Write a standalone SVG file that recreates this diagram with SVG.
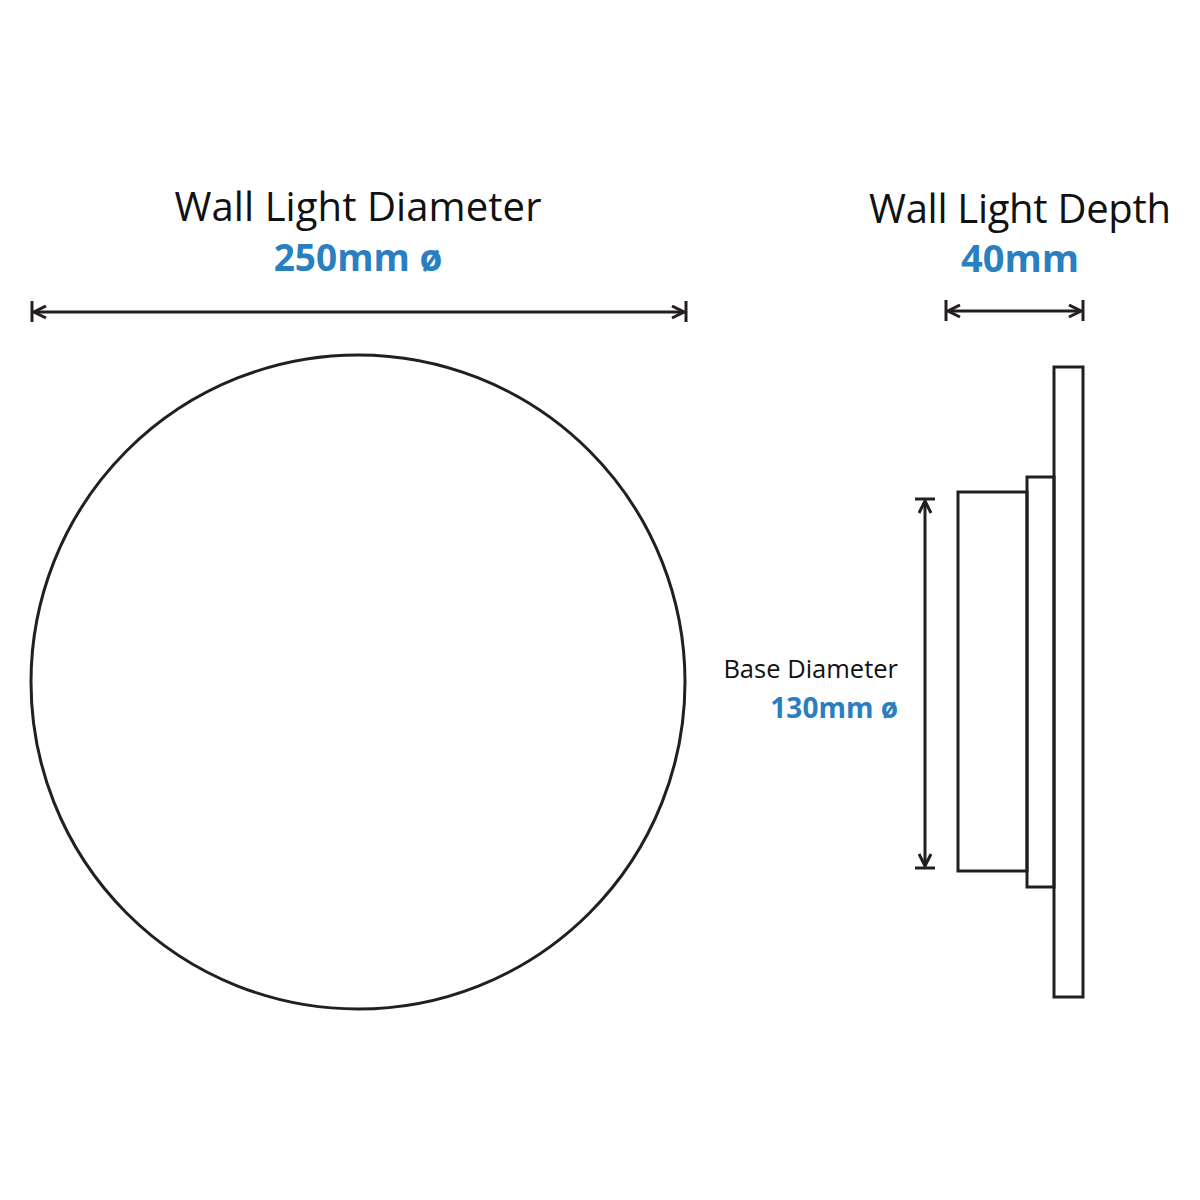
<svg xmlns="http://www.w3.org/2000/svg" width="1200" height="1200" viewBox="0 0 1200 1200">
<defs>
<style>
.s{fill:none;stroke:#231f20;stroke-width:3}
.t{font-family:"Open Sans","Liberation Sans",sans-serif;fill:#111}
.b{font-family:"Open Sans","Liberation Sans",sans-serif;fill:#2a7fc1;font-weight:bold}
</style>
<marker id="a" viewBox="0 0 10 10" refX="9" refY="5" markerWidth="5" markerHeight="5" orient="auto-start-reverse"><path d="M1,1 L9,5 L1,9" fill="none" stroke="#231f20" stroke-width="2"/></marker>
</defs>
<rect width="1200" height="1200" fill="#fff"/>
<g id="front"><circle class="s" cx="358" cy="682" r="327"/></g>
<g id="side" class="s">
<rect x="1054" y="367" width="29" height="630"/>
<rect x="1027" y="477" width="27" height="410"/>
<rect x="958" y="492" width="69" height="379"/>
</g>
<g id="connectors" class="s">
<line x1="34" y1="312" x2="684" y2="312" marker-start="url(#a)" marker-end="url(#a)"/>
<line x1="32" y1="301" x2="32" y2="322"/><line x1="686" y1="301" x2="686" y2="322"/>
<line x1="948" y1="311" x2="1081" y2="311" marker-start="url(#a)" marker-end="url(#a)"/>
<line x1="946" y1="300" x2="946" y2="321"/><line x1="1083" y1="300" x2="1083" y2="321"/>
<line x1="925" y1="501" x2="925" y2="866" marker-start="url(#a)" marker-end="url(#a)"/>
<line x1="915" y1="499" x2="935" y2="499"/><line x1="915" y1="868" x2="935" y2="868"/>
</g>
<g id="labels">
<text class="t" x="358" y="221" font-size="40" text-anchor="middle" textLength="367">Wall Light Diameter</text>
<text class="b" x="358" y="271" font-size="37" text-anchor="middle">250mm ø</text>
<text class="t" x="1020" y="223" font-size="40" text-anchor="middle" textLength="302">Wall Light Depth</text>
<text class="b" x="1020" y="272" font-size="38" text-anchor="middle">40mm</text>
<text class="t" x="898" y="678" font-size="25.5" text-anchor="end">Base Diameter</text>
<text class="b" x="898" y="718" font-size="28" text-anchor="end">130mm ø</text>
</g>
</svg>
